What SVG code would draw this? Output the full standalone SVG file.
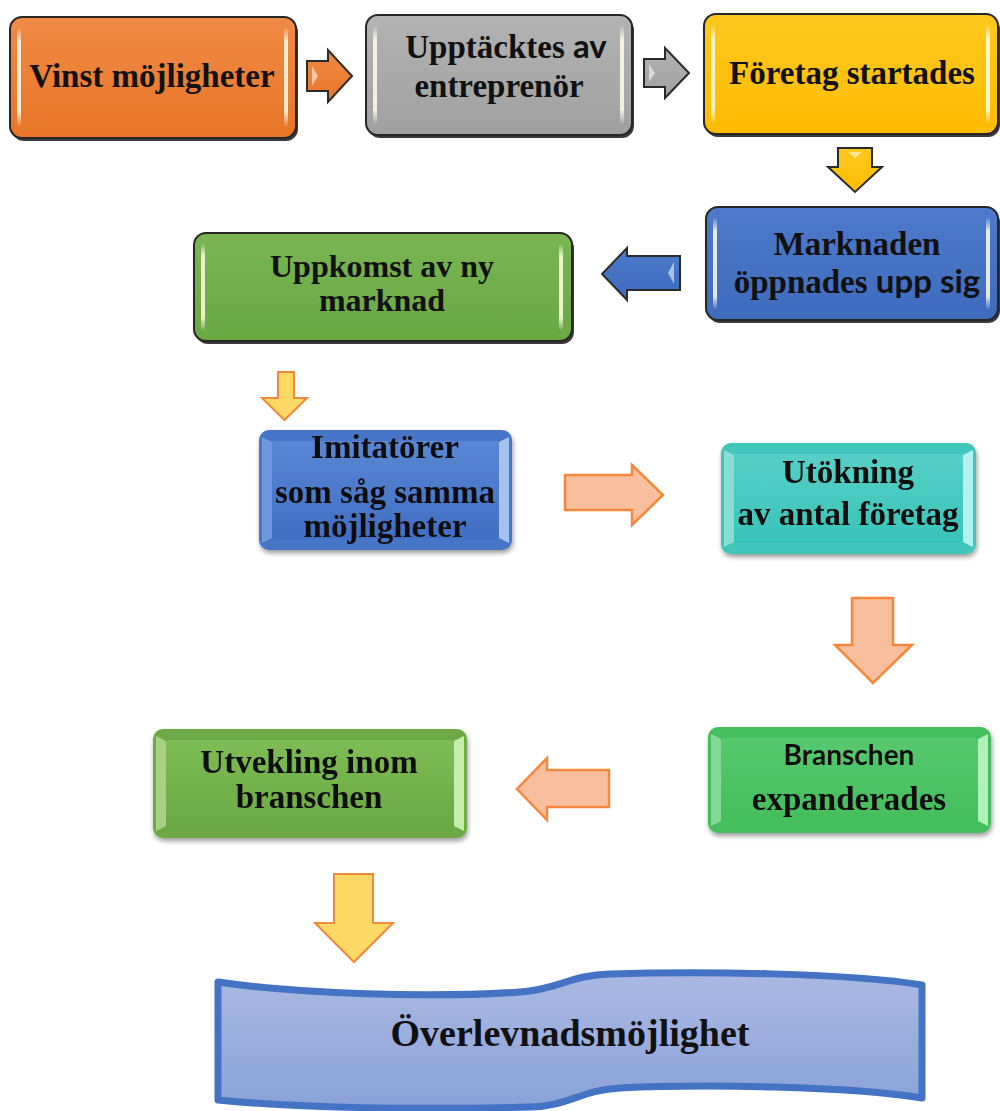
<svg xmlns="http://www.w3.org/2000/svg" width="1000" height="1111" viewBox="0 0 1000 1111">
<defs>
<linearGradient id="gOr" x1="0" y1="0" x2="0" y2="1"><stop offset="0" stop-color="#F08A45"/><stop offset="1" stop-color="#E87527"/></linearGradient>
<linearGradient id="gGr" x1="0" y1="0" x2="0" y2="1"><stop offset="0" stop-color="#B3B3B3"/><stop offset="1" stop-color="#A0A0A0"/></linearGradient>
<linearGradient id="gYe" x1="0" y1="0" x2="0" y2="1"><stop offset="0" stop-color="#FFC81E"/><stop offset="1" stop-color="#FDBC00"/></linearGradient>
<linearGradient id="gBl" x1="0" y1="0" x2="0" y2="1"><stop offset="0" stop-color="#4F7ACB"/><stop offset="1" stop-color="#3E6BBE"/></linearGradient>
<linearGradient id="gGn" x1="0" y1="0" x2="0" y2="1"><stop offset="0" stop-color="#7AB552"/><stop offset="1" stop-color="#6AA842"/></linearGradient>
<linearGradient id="gBl2" x1="0" y1="0" x2="0" y2="1"><stop offset="0" stop-color="#5A86D5"/><stop offset="1" stop-color="#416EC2"/></linearGradient>
<linearGradient id="gTe" x1="0" y1="0" x2="0" y2="1"><stop offset="0" stop-color="#58CFC6"/><stop offset="1" stop-color="#38C4B9"/></linearGradient>
<linearGradient id="gGn2" x1="0" y1="0" x2="0" y2="1"><stop offset="0" stop-color="#56C86E"/><stop offset="1" stop-color="#44BE5C"/></linearGradient>
<linearGradient id="gGn3" x1="0" y1="0" x2="0" y2="1"><stop offset="0" stop-color="#7EBC54"/><stop offset="1" stop-color="#6AA943"/></linearGradient>
<linearGradient id="gHi" x1="0" y1="0" x2="0" y2="1"><stop offset="0" stop-color="#FFFFFF" stop-opacity="0"/><stop offset="0.15" stop-color="#FFFFE8" stop-opacity="0.85"/><stop offset="0.85" stop-color="#FFFFE8" stop-opacity="0.85"/><stop offset="1" stop-color="#FFFFFF" stop-opacity="0"/></linearGradient>
<linearGradient id="gBan" x1="0" y1="0" x2="0" y2="1"><stop offset="0" stop-color="#AAB9E2"/><stop offset="1" stop-color="#8AA2D8"/></linearGradient>
<filter id="soft" x="-10%" y="-10%" width="125%" height="130%"><feGaussianBlur in="SourceAlpha" stdDeviation="2.5"/><feOffset dx="1" dy="3"/><feComponentTransfer><feFuncA type="linear" slope="0.4"/></feComponentTransfer><feMerge><feMergeNode/><feMergeNode in="SourceGraphic"/></feMerge></filter>
</defs>
<style>
.box{stroke:#262626;stroke-width:2}
.shd{fill:#3a3a3a}
.hi{fill:url(#gHi)}
.t{font-family:"Liberation Serif","Times New Roman",serif;font-weight:bold;font-size:33px;fill:#111;text-anchor:middle}
.s{font-family:Lato,"Liberation Sans",sans-serif;font-weight:bold}
.ad{stroke:#2a2a2a;stroke-width:2;stroke-linejoin:miter}
.al{fill:#F9BE9E;stroke:#F5883C;stroke-width:2.5;stroke-linejoin:miter}
.ay{fill:#FFD966;stroke:#F5883C;stroke-width:2;stroke-linejoin:miter}
.ah{fill:#FFFFFF;opacity:0.55}
</style>

<g id="connectors">
<path class="ad" fill="url(#gOr)" d="M307,61 H328 V50 L352,76 L328,102 V91 H307 Z"/>
<path class="ah" d="M312,66 L318,76 L312,86 Z"/>
<path class="ad" fill="url(#gGr)" d="M644,59 H665 V48 L689,73 L665,98 V87 H644 Z"/>
<path class="ah" d="M649,64 L655,73 L649,82 Z"/>
<path class="ad" fill="url(#gYe)" d="M838,148 H872 V167 H882 L855,192 L828,167 H838 Z"/>
<path class="ah" d="M848,152 L862,152 L855,158 Z"/>
<path class="ad" fill="url(#gBl)" d="M680,256 V290 H627 V300 L602,274 L627,248 V256 Z"/>
<path class="ah" d="M674,262 L668,273 L674,284 Z"/>
<path class="ay" d="M278,372 H294 V398 H307 L284.5,420 L262,398 H278 Z"/>
<path class="al" d="M565,475 H632 V465 L663,495 L632,525 V510 H565 Z"/>
<path class="al" d="M852,598 H893 V645 H912 L873,683 L835,645 H852 Z"/>
<path class="al" d="M609,770 V807 H547 V820 L517,789 L547,758 V770 Z"/>
<path class="ay" d="M334,874 H373 V923 H393 L354,962 L315,923 H334 Z"/>
</g>

<g id="n1">
<rect class="shd" x="12" y="20" width="286" height="121" rx="12"/>
<rect class="box" x="10" y="17" width="286" height="121" rx="12" fill="url(#gOr)"/>
<rect class="hi" x="17" y="27" width="4" height="100" rx="2"/>
<rect class="hi" x="284" y="27" width="4" height="100" rx="2"/>
<text class="t" x="152" y="87">Vinst möjligheter</text>
</g>

<g id="n2">
<rect class="shd" x="368" y="18" width="266" height="120" rx="12"/>
<rect class="box" x="366" y="15" width="266" height="120" rx="12" fill="url(#gGr)"/>
<rect class="hi" x="373" y="25" width="4" height="100" rx="2"/>
<rect class="hi" x="620" y="25" width="4" height="100" rx="2"/>
<text class="t" x="506" y="58">Upptäcktes <tspan class="s">av</tspan></text>
<text class="t" x="499" y="97">entreprenör</text>
</g>

<g id="n3">
<rect class="shd" x="706" y="17" width="294" height="120" rx="12"/>
<rect class="box" x="704" y="14" width="294" height="120" rx="12" fill="url(#gYe)"/>
<rect class="hi" x="711" y="24" width="4" height="100" rx="2"/>
<rect class="hi" x="986" y="24" width="4" height="100" rx="2"/>
<text class="t" x="852" y="84">Företag startades</text>
</g>

<g id="n4">
<rect class="shd" x="708" y="210" width="292" height="113" rx="12"/>
<rect class="box" x="706" y="207" width="292" height="113" rx="12" fill="url(#gBl)"/>
<rect class="hi" x="713" y="217" width="4" height="93" rx="2"/>
<rect class="hi" x="986" y="217" width="4" height="93" rx="2"/>
<text class="t" x="857" y="255">Marknaden</text>
<text class="t" x="857" y="293">öppnades <tspan class="s">upp sig</tspan></text>
</g>

<g id="n5">
<rect class="shd" x="196" y="236" width="378" height="108" rx="12"/>
<rect class="box" x="194" y="233" width="378" height="108" rx="12" fill="url(#gGn)"/>
<rect class="hi" x="201" y="243" width="4" height="88" rx="2"/>
<rect class="hi" x="559" y="243" width="4" height="88" rx="2"/>
<text class="t" x="382" y="277" style="font-size:32px">Uppkomst av ny</text>
<text class="t" x="382" y="311" style="font-size:32px">marknad</text>
</g>

<g id="n6" filter="url(#soft)">
<rect x="259" y="430" width="253" height="120" rx="10" fill="#4675C8"/>
<path fill="#6F97DD" d="M262,437 L272,442 L272,538 L262,543 Z"/>
<path fill="#A8C2F0" d="M509,437 L499,442 L499,538 L509,543 Z"/>
<rect x="272" y="441" width="227" height="98" rx="3" fill="url(#gBl2)"/>
<text class="t" x="385" y="458">Imitatörer</text>
<text class="t" x="385" y="503">som såg samma</text>
<text class="t" x="385" y="537">möjligheter</text>
</g>

<g id="n7" filter="url(#soft)">
<rect x="721" y="443" width="255" height="111" rx="10" fill="#3FC6BB"/>
<path fill="#86DED7" d="M724,450 L734,455 L734,542 L724,547 Z"/>
<path fill="#B2F2EE" d="M973,450 L963,455 L963,542 L973,547 Z"/>
<rect x="734" y="454" width="229" height="89" rx="3" fill="url(#gTe)"/>
<text class="t" x="848" y="483">Utökning</text>
<text class="t" x="848" y="525">av antal  företag</text>
</g>

<g id="n8" filter="url(#soft)">
<rect x="708" y="727" width="283" height="106" rx="10" fill="#45BE5D"/>
<path fill="#86D894" d="M711,734 L721,739 L721,821 L711,826 Z"/>
<path fill="#B0F0BA" d="M988,734 L978,739 L978,821 L988,826 Z"/>
<rect x="721" y="738" width="257" height="84" rx="3" fill="url(#gGn2)"/>
<text class="t s" x="849" y="765" style="font-size:28px">Branschen</text>
<text class="t" x="849" y="810">expanderades</text>
</g>

<g id="n9" filter="url(#soft)">
<rect x="153" y="729" width="314" height="109" rx="10" fill="#6DAA45"/>
<path fill="#A6D184" d="M156,736 L166,741 L166,826 L156,831 Z"/>
<path fill="#C8EBAE" d="M464,736 L454,741 L454,826 L464,831 Z"/>
<rect x="166" y="740" width="288" height="87" rx="3" fill="url(#gGn3)"/>
<text class="t" x="309" y="773">Utvekling inom</text>
<text class="t" x="309" y="808">branschen</text>
</g>

<g id="n10">
<path d="M218,982 C300,994 430,998 520,992 C560,989 570,975 610,974 C700,971 850,973 922,985 L922,1098 C850,1086 700,1084 620,1088 C580,1090 570,1106 530,1107 C420,1110 300,1108 218,1100 Z" fill="url(#gBan)" stroke="#4472C4" stroke-width="7" stroke-linejoin="round"/>
<text class="t" x="570" y="1046" style="font-size:38px">Överlevnadsmöjlighet</text>
</g>
</svg>
